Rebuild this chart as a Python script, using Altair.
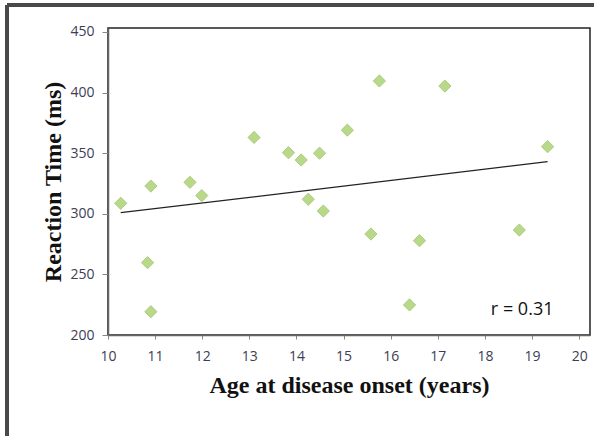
import altair as alt
import pandas as pd

age = [10.27, 10.91, 11.74, 11.99, 13.10, 13.83, 14.10, 14.49, 15.08, 15.76,
       17.15, 19.33, 14.25, 14.57, 15.58, 16.61, 18.73, 16.40, 10.84, 10.91]
rt = [308.7, 322.9, 326.0, 315.0, 363.0, 350.4, 344.4, 350.0, 369.0, 409.6,
      405.4, 355.4, 312.0, 302.3, 283.3, 277.8, 286.6, 224.8, 259.7, 219.2]

trend_x = [10.27, 19.33]
trend_y = [300.9, 343.0]

label_text = ["r = 0.31"]
label_x = [18.79]
label_y = [220.5]

x_ticks = list(range(10, 21))
y_ticks = [200, 250, 300, 350, 400, 450]

pts = pd.DataFrame({"age": age, "rt": rt})
trend = pd.DataFrame({"age": trend_x, "rt": trend_y})
lab = pd.DataFrame({"age": label_x, "rt": label_y, "t": label_text})

xs = alt.Scale(domain=[10, 20.23], nice=False, zero=False)
ys = alt.Scale(domain=[200, 453.3], nice=False, zero=False)

xaxis = alt.Axis(values=x_ticks, grid=False, tickSize=4, labelPadding=10,
                 labelFont="Open Sans", labelFontSize=14, labelColor="#3d3d55",
                 domainColor="#666666", tickColor="#888888", domainWidth=1.5,
                 title="Age at disease onset (years)", titleFont="Liberation Serif",
                 titleFontSize=24, titleFontWeight="bold", titleColor="#111111",
                 titlePadding=10, labelFlush=False)
yaxis = alt.Axis(values=y_ticks, grid=False, tickSize=6, labelPadding=8,
                 labelFont="Open Sans", labelFontSize=14, labelColor="#3d3d55",
                 domainColor="#666666", tickColor="#888888", domainWidth=1.5,
                 title="Reaction Time (ms)", titleFont="Liberation Serif",
                 titleFontSize=24, titleFontWeight="bold", titleColor="#111111",
                 titlePadding=4, labelFlush=False)

points = alt.Chart(pts).mark_point(shape="diamond", filled=True, size=150,
                                   color="#b8d88a", stroke="#a3c472",
                                   strokeWidth=0.8, opacity=1).encode(
    x=alt.X("age:Q", scale=xs, axis=xaxis),
    y=alt.Y("rt:Q", scale=ys, axis=yaxis),
)

line = alt.Chart(trend).mark_line(color="#222222", strokeWidth=1.2).encode(
    x=alt.X("age:Q", scale=xs),
    y=alt.Y("rt:Q", scale=ys),
)

text = alt.Chart(lab).mark_text(font="Open Sans", fontSize=18, color="#111111",
                                align="center", baseline="middle").encode(
    x=alt.X("age:Q", scale=xs),
    y=alt.Y("rt:Q", scale=ys),
    text="t:N",
)

frame_top = alt.Chart(pts).mark_rule(color="#4a4a4a", strokeWidth=2.5).encode(
    x=alt.value(-101), x2=alt.value(500), y=alt.value(-23))
frame_left = alt.Chart(pts).mark_rule(color="#4a4a4a", strokeWidth=2.5).encode(
    x=alt.value(-101), y=alt.value(-23), y2=alt.value(420))

chart = alt.layer(frame_top, frame_left, line, points, text).properties(
    width=482, height=307,
    autosize=alt.AutoSizeParams(type="none"),
    padding={"left": 108, "top": 28, "right": 4, "bottom": 101},
    background="white",
).configure_view(stroke="#222222", strokeWidth=1.5)

chart.save("out.html", embed_options={"renderer": "svg", "actions": False})
